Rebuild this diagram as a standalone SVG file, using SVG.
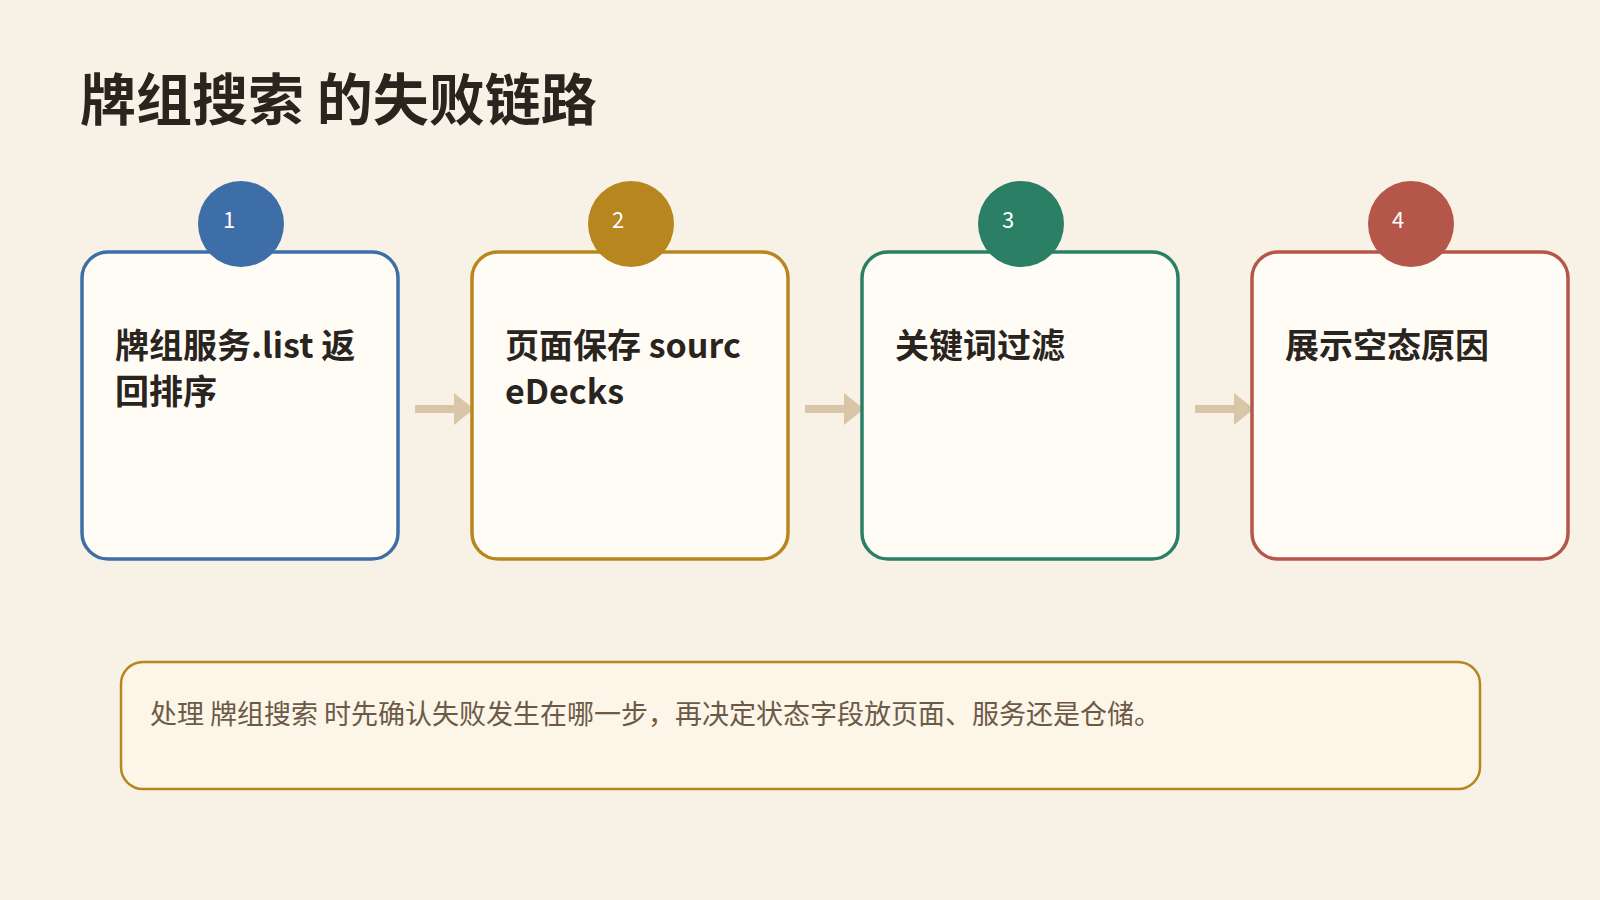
<svg xmlns="http://www.w3.org/2000/svg" width="1600" height="900" viewBox="0 0 1600 900">
<style>
text{font-family:"Noto Sans CJK SC","Noto Sans",sans-serif}
.t{font-size:56px;font-weight:700;fill:#2a241e}
.card{fill:#fffcf6;stroke-width:3.5}
.lbl{font-size:34px;font-weight:700;fill:#2a241e}
.num{font-size:22px;fill:#fff}
.arr{stroke:#d9c6a8;stroke-width:8}
.note{font-size:27px;fill:#6b5a48}
</style>
<defs><marker id="ah" markerWidth="3" markerHeight="4" refX="1.5" refY="2" orient="auto" markerUnits="strokeWidth"><path d="M0,0 L2.5,2 L0,4Z" fill="#d9c6a8"/></marker></defs>
<rect width="1600" height="900" fill="#f8f1e6"/>
<text class="t" x="80" y="120">牌组搜索 的失败链路</text>
<g id="connectors">
<line class="arr" x1="415" y1="409" x2="466" y2="409" marker-end="url(#ah)"/>
<line class="arr" x1="805" y1="409" x2="856" y2="409" marker-end="url(#ah)"/>
<line class="arr" x1="1195" y1="409" x2="1246" y2="409" marker-end="url(#ah)"/>
</g>
<g id="n1"><rect class="card" x="82" y="252" width="316" height="307" rx="26" stroke="#3d6ea8"/><circle cx="241" cy="224" r="43" fill="#3d6ea8"/><text class="num" x="223" y="228">1</text><text class="lbl" x="115" y="358">牌组服务.list 返</text><text class="lbl" x="115" y="404">回排序</text></g>
<g id="n2"><rect class="card" x="472" y="252" width="316" height="307" rx="26" stroke="#b8861e"/><circle cx="631" cy="224" r="43" fill="#b8861e"/><text class="num" x="612" y="228">2</text><text class="lbl" x="505" y="358">页面保存 sourc</text><text class="lbl" x="505" y="404">eDecks</text></g>
<g id="n3"><rect class="card" x="862" y="252" width="316" height="307" rx="26" stroke="#2b7f65"/><circle cx="1021" cy="224" r="43" fill="#2b7f65"/><text class="num" x="1002" y="228">3</text><text class="lbl" x="895" y="358">关键词过滤</text></g>
<g id="n4"><rect class="card" x="1252" y="252" width="316" height="307" rx="26" stroke="#b5564a"/><circle cx="1411" cy="224" r="43" fill="#b5564a"/><text class="num" x="1392" y="228">4</text><text class="lbl" x="1285" y="358">展示空态原因</text></g>
<g id="note"><rect x="121" y="662" width="1359" height="127" rx="22" fill="#fdf5e7" stroke="#b8861e" stroke-width="2.5"/><text class="note" x="150" y="724">处理 牌组搜索 时先确认失败发生在哪一步，再决定状态字段放页面、服务还是仓储。</text></g>
</svg>
